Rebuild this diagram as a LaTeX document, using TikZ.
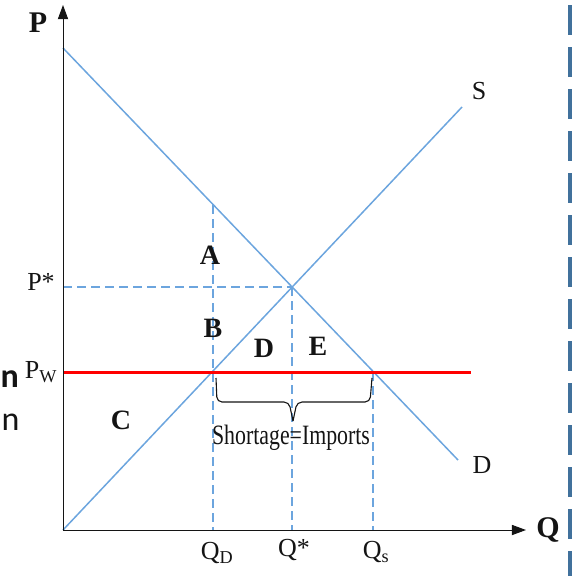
\documentclass[tikz,border=0pt]{standalone}
\usepackage{fontspec}
\setmainfont{Liberation Serif}
\newfontfamily\slidefont{Carlito}
\usetikzlibrary{arrows.meta,positioning,calc}
\definecolor{ink}{RGB}{20,20,20}
\definecolor{curve}{RGB}{108,165,222}
\definecolor{world}{RGB}{255,0,0}
\definecolor{rule}{RGB}{65,113,156}
\tikzset{
  axis/.style={-{Triangle[length=5mm,width=3.6mm]},line width=1pt,ink},
  curveline/.style={curve,line width=1.5pt},
  guide/.style={curve,line width=1.2pt,dash pattern=on 9pt off 5pt},
  bracket/.style={ink,line width=1.1pt,rounded corners=5pt},
  lab/.style={font=\fontsize{28}{32}\selectfont\bfseries,inner sep=0pt,text=ink},
  tick/.style={font=\fontsize{26}{30}\selectfont,inner sep=0pt,text=ink},
  frag/.style={font=\slidefont\fontsize{34}{38}\selectfont,inner sep=0pt,text=ink},
}

\begin{document}
\begin{tikzpicture}[x=1pt,y=-1pt]
\useasboundingbox (0,0) rectangle (577,576);
% points of the diagram
\coordinate (O) at (63,530);
\coordinate (ytop) at (63,5);
\coordinate (xend) at (526,530);
\coordinate (d0) at (63,48);
\coordinate (d1) at (458,460);
\coordinate (s1) at (462,107);
\coordinate (eq) at (292,287);
\coordinate (pw0) at (63,372);
\coordinate (pw1) at (471,372);
\coordinate (qd) at (213,372);
\coordinate (qs) at (373,372);
\coordinate (qdtop) at (213,205);
\coordinate (pstar) at (63,287);
\coordinate (qdbot) at (213,530);
\coordinate (qsbot) at (373,530);
\coordinate (qstarbot) at (292,530);
% dashed guides
\draw[guide] (qdtop) -- (qdbot);
\draw[guide] (eq) -- (qstarbot);
\draw[guide] (qs) -- (qsbot);
\draw[guide] (pstar) -- (eq);
% supply and demand
\draw[curveline] (d0) -- (d1);
\draw[curveline] (O) -- (s1);
% world price
\draw[world,line width=3pt] (pw0) -- (pw1);
% axes
\draw[axis] (O) -- (ytop);
\draw[axis] (O) -- (xend);
% brace under the gap
\coordinate (bl) at (216,378);
\coordinate (br) at (372,378);
\coordinate (btip) at (293,421);
\draw[bracket] (bl) -- (217,402) -- (289,402) -- (btip);
\draw[bracket] (btip) -- (297,402) -- (370,402) -- (br);
\node[tick,font=\fontsize{28}{32}\selectfont] (short) at (291,438)
  {\scalebox{0.78}[1]{Shortage=Imports}};
% axis labels
\node[lab,font=\fontsize{30}{34}\selectfont\bfseries] (P) at (38,23) {P};
\node[lab,font=\fontsize{30}{34}\selectfont\bfseries] (Q) at (548,530) {Q};
\node[tick] (S) at (479,91) {S};
\node[tick] (Dl) at (482,465) {D};
\node[tick] (Ps) at (41,282) {P*};
\node[tick] (Pw) at (41,372) {P\textsubscript{W}};
\node[tick] (QD) at (217,553) {Q\textsubscript{D}};
\node[tick] (Qs) at (294,550) {Q*};
\node[tick] (QS) at (376,552) {Q\textsubscript{s}};
% areas
\node[lab] (A) at (210,255) {A};
\node[lab] (B) at (213,328) {B};
\node[lab] (C) at (121,420) {C};
\node[lab] (D) at (264,348) {D};
\node[lab] (E) at (318,346) {E};
% edge of the slide
\draw[rule,line width=3.5pt,dash pattern=on 30pt off 12pt] (570,5) -- (570,576);
\node[frag,anchor=base west] (n1) at (0.5,387) {\bfseries n};
\node[frag,anchor=base west] (n2) at (1.5,430) {n};
\end{tikzpicture}
\end{document}
